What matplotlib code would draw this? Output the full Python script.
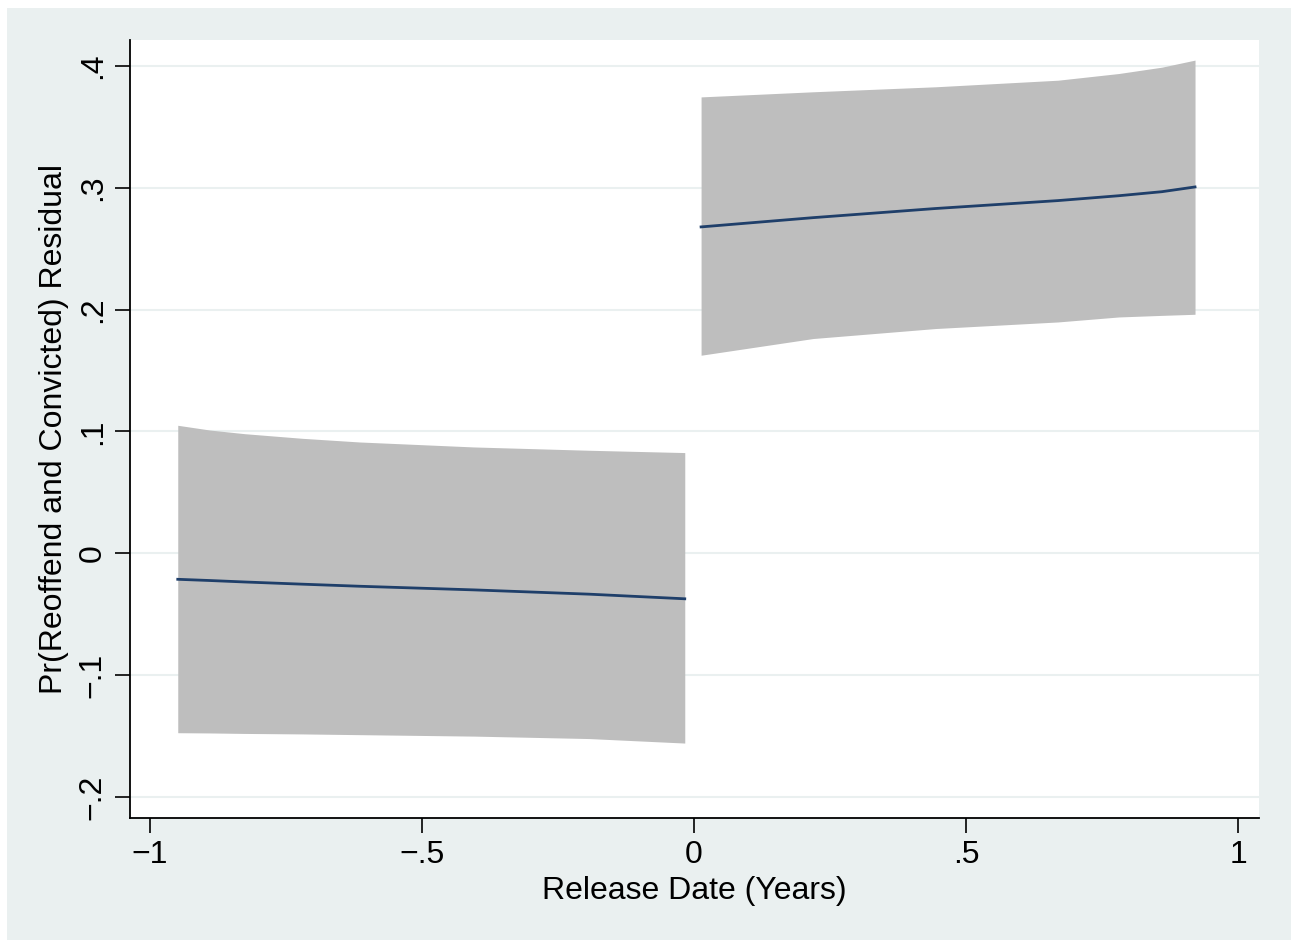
import matplotlib.pyplot as plt
from matplotlib.patches import Rectangle

plt.rcParams['font.family'] = ['Liberation Sans', 'DejaVu Sans']

# before release (left of cutoff)
x_pre = [-0.949, -0.890, -0.826, -0.720, -0.615, -0.404, -0.193, -0.017]
fit_pre = [-0.0213, -0.0223, -0.0235, -0.0253, -0.0270, -0.0300, -0.0335, -0.0373]
lo_pre = [-0.1472, -0.1474, -0.1478, -0.1482, -0.1488, -0.1500, -0.1520, -0.1557]
hi_pre = [0.1051, 0.1012, 0.0982, 0.0944, 0.0914, 0.0873, 0.0846, 0.0827]

# after release (right of cutoff)
x_post = [0.013, 0.219, 0.444, 0.669, 0.781, 0.860, 0.921]
fit_post = [0.2679, 0.2755, 0.2830, 0.2895, 0.2935, 0.2968, 0.3007]
lo_post = [0.1626, 0.1763, 0.1845, 0.1899, 0.1940, 0.1953, 0.1962]
hi_post = [0.3746, 0.3788, 0.3829, 0.3883, 0.3938, 0.3990, 0.4048]

x_ticks = [-1, -0.5, 0, 0.5, 1]
x_ticklabels = ['\u22121', '\u2212.5', '0', '.5', '1']
y_ticks = [-0.2, -0.1, 0, 0.1, 0.2, 0.3, 0.4]
y_ticklabels = ['\u2212.2', '\u2212.1', '0', '.1', '.2', '.3', '.4']

bg = '#EAF0F0'
band = '#BEBEBE'
navy = '#1F3F6A'

fig = plt.figure(figsize=(12.91, 9.40), dpi=100, facecolor=bg)
# white strips at the top and left edge of the scan
fig.patches.append(Rectangle((0, 1 - 8 / 940), 1, 8 / 940, transform=fig.transFigure,
                             facecolor='white', edgecolor='none', zorder=-1))
fig.patches.append(Rectangle((0, 0), 7 / 1291, 1, transform=fig.transFigure,
                             facecolor='white', edgecolor='none', zorder=-1))

ax = fig.add_axes([130 / 1291, 1 - 818 / 940, 1129 / 1291, 778 / 940])
ax.set_facecolor('white')

ax.fill_between(x_pre, lo_pre, hi_pre, color=band, linewidth=0, zorder=2)
ax.fill_between(x_post, lo_post, hi_post, color=band, linewidth=0, zorder=2)
ax.plot(x_pre, fit_pre, color=navy, linewidth=2, zorder=3)
ax.plot(x_post, fit_post, color=navy, linewidth=2, zorder=3)

ax.set_xlim(-1.0368, 1.0386)
ax.set_ylim(-0.2172, 0.4213)

ax.set_xticks(x_ticks)
ax.set_xticklabels(x_ticklabels, fontsize=23)
ax.set_yticks(y_ticks)
ax.set_yticklabels(y_ticklabels, fontsize=23, rotation=90, va='center')
ax.tick_params(axis='both', length=11, width=1.2, color='black', pad=5)

ax.yaxis.grid(True, color=bg, linewidth=1.5)
ax.set_axisbelow(True)

for side in ['top', 'right']:
    ax.spines[side].set_visible(False)
for side in ['left', 'bottom']:
    ax.spines[side].set_linewidth(1.3)

ax.set_xlabel('Release Date (Years)', fontsize=23, labelpad=4)
ax.set_ylabel('Pr(Reoffend and Convicted) Residual', fontsize=23, labelpad=6)

fig.savefig('out.png', dpi=100, facecolor=fig.get_facecolor())
